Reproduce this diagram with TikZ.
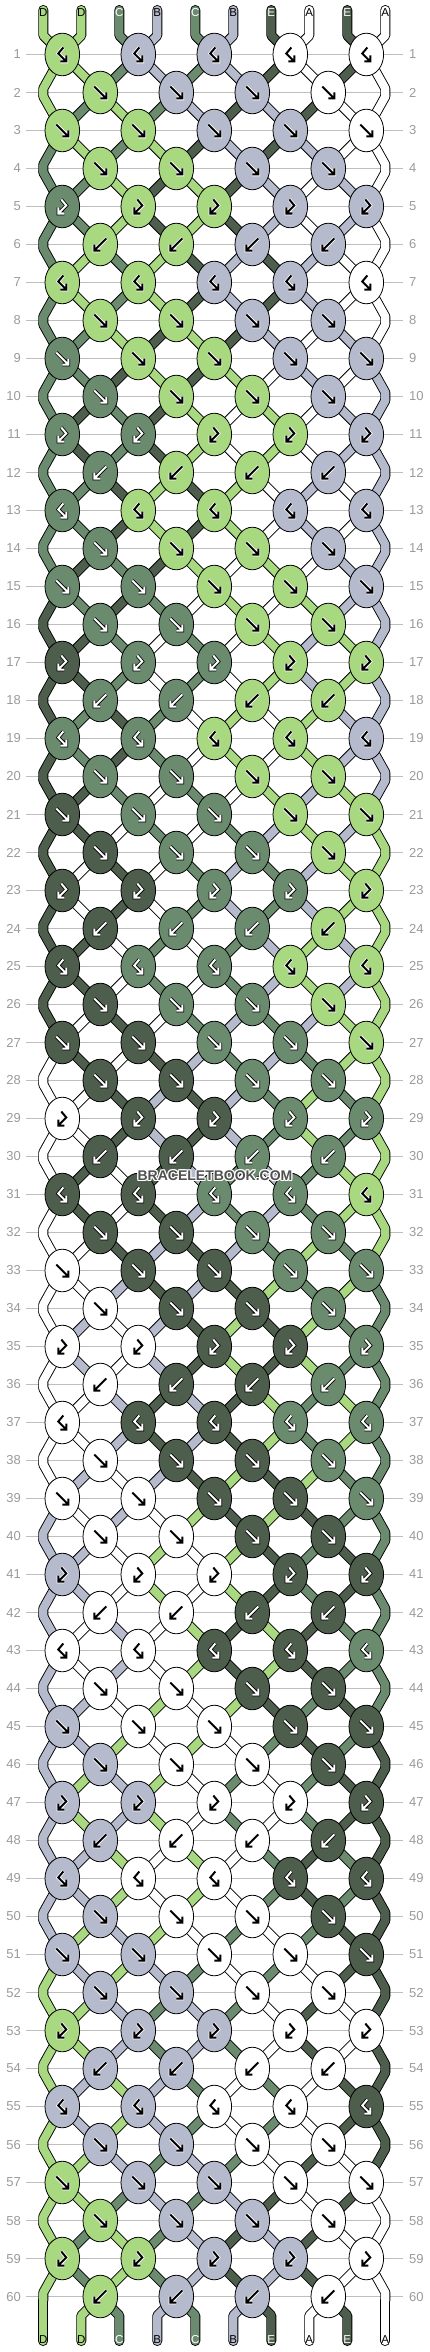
\documentclass[tikz,border=0pt]{standalone}
\usepackage{fontspec}
\setmainfont{Liberation Sans}
\usetikzlibrary{shapes.geometric}

\definecolor{colD}{HTML}{A8D880}
\definecolor{colC}{HTML}{6A8B6E}
\definecolor{colB}{HTML}{B5BACC}
\definecolor{colE}{HTML}{4E5E4C}
\definecolor{colA}{HTML}{FFFFFF}
\colorlet{txtD}{black}\colorlet{txtB}{black}\colorlet{txtA}{black}
\colorlet{txtC}{white}\colorlet{txtE}{white}
\colorlet{rimD}{white}\colorlet{rimB}{white}\colorlet{rimA}{white}
\colorlet{rimC}{black}\colorlet{rimE}{black}
\definecolor{rownum}{HTML}{9A9A9A}
\definecolor{gridgray}{HTML}{BEBEBE}
\definecolor{wmgray}{HTML}{505050}

% which colour lies at each string position
\newcommand\setstr[2]{\expandafter\xdef\csname strcol#1\endcsname{#2}}
\newcommand\getstr[1]{\csname strcol#1\endcsname}

% one pass over all string pieces: 0 = black rim, 1 = colour
\newcommand\stringpass[1]{%
  \foreach \r in {1,...,61}{
    \pgfmathtruncatemacro\pr{\r-1}
    \foreach \i in {1,...,10}{
      \edef\sc{\ifnum#1=0 black\else col\csname seg-\r-\i\endcsname\fi}
      \edef\sw{\ifnum#1=0 10pt\else 8.2pt\fi}
      \ifnum\r=1
        \draw[strand,draw=\sc,line width=\sw] (top\i) -- (topbend\i) -- (pin1-\i) -- (pout1-\i);
      \else\ifnum\r=61
        \draw[strand,draw=\sc,line width=\sw] (pout60-\i) -- (botbend\i) -- (bot\i);
      \else
        \draw[strand,draw=\sc,line width=\sw] (pout\pr-\i) -- (pin\r-\i) -- (pout\r-\i);
      \fi\fi
    }
  }}

\newcommand\glyphpaths[1]{%
  \ifcase#1
    \draw (1,-7) -- (-4,-1) -- (4,7) (4,1) -- (4,7) -- (-2,7);
  \or \draw (-6,-6) -- (6,6) (6,0) -- (6,6) -- (0,6);
  \or \draw (-6,-6) -- (6,6) (6,0) -- (6,6) -- (0,6);
  \or \draw (-6,-6) -- (6,6) (6,0) -- (6,6) -- (0,6);
  \or \draw (-1,-7) -- (4,-1) -- (-4,7) (-4,1) -- (-4,7) -- (2,7);
  \or \draw (6,-6) -- (-6,6) (-6,0) -- (-6,6) -- (0,6);
  \fi}

\newcommand\knotarrow[3]{%
  \edef\rimc{rim#3}\edef\inkc{txt#3}%
  \begin{scope}[shift={(#2.center)},line cap=butt,line join=miter]
    \begin{scope}[color=\rimc,line width=3.6pt]\glyphpaths{#1}\end{scope}
    \begin{scope}[color=\inkc,line width=2pt]\glyphpaths{#1}\end{scope}
  \end{scope}}

\begin{document}
\begin{tikzpicture}[x=1pt,y=-1pt,
    knot/.style={ellipse,draw=black,line width=0.8pt,minimum width=34.6pt,minimum height=42.6pt,inner sep=0pt},
    strand/.style={line cap=round,line join=round},
    gridline/.style={draw=gridgray,line width=1pt},
    rowno/.style={text=rownum,font=\fontsize{13}{13}\selectfont,inner sep=0pt},
    endlabel/.style={font=\fontsize{11.5}{11.5}\selectfont,inner sep=0pt},
    wmark/.style={font=\fontsize{14}{14}\selectfont\bfseries,inner sep=0pt}]
  \useasboundingbox (0,0) rectangle (430,2352);

  \foreach \i/\l in {1/D,2/D,3/C,4/B,5/C,6/B,7/E,8/A,9/E,10/A}{\setstr{\i}{\l}}

  % end points on top and at the bottom
  \foreach \i in {1,...,10}{
    \pgfmathsetmacro\xs{43.3+38*(\i-1)}
    \coordinate (top\i) at (\xs,10);
    \coordinate (topbend\i) at (\xs,35.5);
    \coordinate (botbend\i) at (\xs,2315.5);
    \coordinate (bot\i) at (\xs,2341);
  }

  % work out the knots row by row
  \foreach \r in {1,...,60}{
    \pgfmathsetmacro\yr{54.5+38*(\r-1)}
    \pgfmathtruncatemacro\ktype{mod(\r-1,6)}
    \foreach \i in {1,...,10}{
      \pgfmathtruncatemacro\s{\i-mod(\i+\r,2)}
      \def\bend{0}
      \ifnum\s<1 \pgfmathsetmacro\xl{43.3+38*(\i-1)}\def\bend{4}%
      \else\ifnum\s>9 \pgfmathsetmacro\xl{43.3+38*(\i-1)}\def\bend{4}%
      \else\pgfmathsetmacro\xl{62.3+38*(\s-1)}\fi\fi
      \coordinate (pin\r-\i) at (\xl,\yr-\bend);
      \coordinate (pout\r-\i) at (\xl,\yr+\bend);
      \coordinate (p\r-\i) at (\xl,\yr);
      \expandafter\xdef\csname seg-\r-\i\endcsname{\getstr{\i}}
    }
    \pgfmathtruncatemacro\first{2-mod(\r,2)}
    \foreach \j in {0,...,4}{
      \pgfmathtruncatemacro\s{\first+2*\j}
      \ifnum\s<10
        \pgfmathtruncatemacro\t{\s+1}
        \edef\lc{\getstr{\s}}\edef\rc{\getstr{\t}}
        \ifcase\ktype \let\kc\rc \or\let\kc\lc \or\let\kc\lc \or\let\kc\lc \or\let\kc\lc \or\let\kc\rc \fi
        \expandafter\xdef\csname knot-\r-\s\endcsname{\kc}
        \ifcase\ktype \or\setstr{\s}{\rc}\setstr{\t}{\lc}\or\setstr{\s}{\rc}\setstr{\t}{\lc}%
        \or\setstr{\s}{\rc}\setstr{\t}{\lc}\or\or\setstr{\s}{\rc}\setstr{\t}{\lc}\fi
      \fi
    }
  }
  \foreach \i in {1,...,10}{\expandafter\xdef\csname seg-61-\i\endcsname{\getstr{\i}}}

  % row guides and numbers
  \foreach \r in {1,...,60}{
    \pgfmathsetmacro\yr{54.5+38*(\r-1)}
    \draw[gridline] (26,\yr) -- (403,\yr);
    \node[rowno,anchor=east] (numl\r) at (21,\yr) {\r};
    \node[rowno,anchor=west] (numr\r) at (409,\yr) {\r};
  }

  \stringpass{0}
  \stringpass{1}

  \foreach \r in {1,...,60}{
    \pgfmathtruncatemacro\ktype{mod(\r-1,6)}
    \pgfmathtruncatemacro\first{2-mod(\r,2)}
    \foreach \j in {0,...,4}{
      \pgfmathtruncatemacro\s{\first+2*\j}
      \ifnum\s<10
        \edef\kc{\csname knot-\r-\s\endcsname}
        \edef\kfill{col\kc}
        \node[knot,fill=\kfill] (k\r-\s) at (p\r-\s) {};
        \knotarrow{\ktype}{k\r-\s}{\kc}
      \fi
    }
  }

  % string letters
  \foreach \i in {1,...,10}{
    \pgfmathsetmacro\xs{43.3+38*(\i-1)}
    \edef\lt{\csname seg-1-\i\endcsname}\edef\ltxt{txt\lt}
    \node[endlabel,text=\ltxt] (toplab\i) at (\xs,12.8) {\lt};
    \edef\lt{\csname seg-61-\i\endcsname}\edef\ltxt{txt\lt}
    \node[endlabel,text=\ltxt] (botlab\i) at (\xs,2340) {\lt};
  }

  \foreach \dx/\dy [count=\n] in {-1/0,1/0,0/-1,0/1,-1/-1,1/1,-1/1,1/-1}
    \node[wmark,text=white] (wmrim\n) at (215+\dx,1176+\dy) {BRACELETBOOK.COM};
  \node[wmark,text=wmgray] (watermark) at (215,1176) {BRACELETBOOK.COM};
\end{tikzpicture}
\end{document}
